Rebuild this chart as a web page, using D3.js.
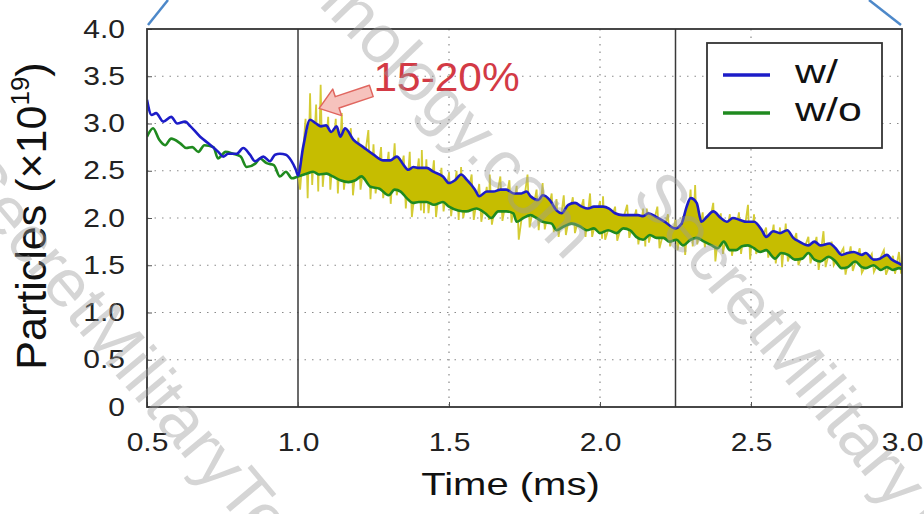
<!DOCTYPE html>
<html>
<head>
<meta charset="utf-8">
<script src="https://cdn.jsdelivr.net/npm/d3@7"></script>
<style>
  body { margin: 0; background: #fff; }
  svg { display: block; }
  text { font-family: "Liberation Sans", Arial, Helvetica, sans-serif; }
</style>
</head>
<body>
<div id="chart"></div>
<script>
// ---- data ----
const seriesNames = ["w/", "w/o"];
const seriesColors = ["#1c1cc8", "#1f8a1f"];

// particles (x1e19) vs time (ms), with plasma ("w/")
const withValues = [
  [0.500,3.25],[0.515,3.09],[0.530,3.11],[0.554,3.02],[0.580,3.07],[0.600,3.00],[0.626,3.02],[0.644,2.97],
  [0.676,2.86],[0.703,2.79],[0.736,2.70],[0.752,2.65],[0.769,2.68],[0.797,2.68],[0.819,2.74],[0.841,2.67],
  [0.858,2.60],[0.885,2.65],[0.907,2.60],[0.924,2.67],[0.940,2.68],[0.960,2.67],[0.977,2.61],[0.993,2.51],
  [1.000,2.45],[1.017,2.75],[1.040,3.04],[1.060,3.00],[1.076,2.97],[1.093,2.98],[1.110,2.91],[1.128,2.97],
  [1.140,2.86],[1.156,2.95],[1.183,2.83],[1.216,2.75],[1.250,2.67],[1.283,2.61],[1.305,2.61],[1.327,2.65],
  [1.350,2.56],[1.365,2.51],[1.382,2.54],[1.400,2.53],[1.426,2.53],[1.448,2.49],[1.480,2.44],[1.500,2.37],
  [1.520,2.40],[1.540,2.46],[1.560,2.40],[1.586,2.30],[1.600,2.23],[1.625,2.28],[1.647,2.28],[1.670,2.30],
  [1.690,2.30],[1.714,2.26],[1.740,2.26],[1.757,2.28],[1.770,2.23],[1.796,2.19],[1.810,2.24],[1.834,2.19],
  [1.856,2.08],[1.873,2.05],[1.895,2.14],[1.917,2.16],[1.940,2.12],[1.960,2.10],[1.980,2.12],[2.010,2.12],
  [2.030,2.10],[2.050,2.05],[2.075,2.03],[2.100,2.03],[2.126,2.03],[2.143,2.02],[2.160,2.05],[2.187,2.01],
  [2.215,1.96],[2.248,1.89],[2.270,1.94],[2.287,2.12],[2.300,2.21],[2.320,2.16],[2.336,1.96],[2.353,2.01],
  [2.375,2.07],[2.400,2.00],[2.420,1.96],[2.440,2.00],[2.463,1.98],[2.485,1.96],[2.510,1.96],[2.536,1.87],
  [2.550,1.80],[2.574,1.86],[2.596,1.84],[2.620,1.87],[2.640,1.79],[2.660,1.75],[2.690,1.71],[2.710,1.75],
  [2.730,1.71],[2.760,1.73],[2.780,1.68],[2.800,1.61],[2.820,1.63],[2.840,1.64],[2.867,1.61],[2.880,1.63],
  [2.906,1.56],[2.927,1.57],[2.950,1.61],[2.966,1.56],[2.990,1.52],[3.000,1.50]
];

// without plasma ("w/o")
const withoutValues = [
  [0.500,2.86],[0.520,2.95],[0.540,2.83],[0.560,2.77],[0.580,2.84],[0.610,2.79],[0.630,2.74],[0.650,2.75],
  [0.670,2.70],[0.690,2.77],[0.720,2.75],[0.735,2.63],[0.760,2.70],[0.785,2.68],[0.810,2.65],[0.830,2.54],
  [0.860,2.58],[0.874,2.63],[0.896,2.58],[0.920,2.56],[0.940,2.44],[0.960,2.49],[0.980,2.42],[1.000,2.44],
  [1.030,2.47],[1.050,2.49],[1.070,2.46],[1.095,2.47],[1.115,2.44],[1.140,2.40],[1.167,2.38],[1.190,2.40],
  [1.210,2.44],[1.240,2.33],[1.270,2.31],[1.300,2.24],[1.320,2.30],[1.340,2.28],[1.360,2.21],[1.380,2.16],
  [1.400,2.17],[1.426,2.17],[1.450,2.14],[1.480,2.17],[1.500,2.12],[1.530,2.08],[1.557,2.07],[1.590,2.10],
  [1.620,2.05],[1.640,2.00],[1.663,2.07],[1.690,2.07],[1.713,2.05],[1.724,1.96],[1.746,2.00],[1.770,2.03],
  [1.790,2.00],[1.810,1.96],[1.840,1.94],[1.856,1.87],[1.880,1.91],[1.906,1.94],[1.934,1.91],[1.956,1.87],
  [1.980,1.89],[2.000,1.84],[2.027,1.87],[2.055,1.84],[2.077,1.89],[2.100,1.87],[2.120,1.80],[2.143,1.77],
  [2.165,1.82],[2.187,1.79],[2.210,1.79],[2.230,1.75],[2.253,1.77],[2.275,1.71],[2.300,1.77],[2.320,1.79],
  [2.345,1.75],[2.370,1.71],[2.390,1.68],[2.410,1.75],[2.430,1.66],[2.450,1.66],[2.470,1.70],[2.490,1.71],
  [2.510,1.68],[2.530,1.64],[2.550,1.66],[2.580,1.57],[2.600,1.63],[2.623,1.61],[2.645,1.56],[2.670,1.57],
  [2.690,1.63],[2.710,1.56],[2.730,1.54],[2.756,1.59],[2.780,1.54],[2.800,1.47],[2.820,1.48],[2.845,1.54],
  [2.867,1.48],[2.880,1.47],[2.906,1.50],[2.930,1.45],[2.950,1.48],[2.970,1.45],[2.990,1.47],[3.000,1.46]
];

// raw (noisy) difference signal: [time, spike top, spike bottom]
const rawSpikes = [
  [1.000,2.50,2.30],[1.025,3.05,2.21],[1.040,3.32,2.35],[1.060,3.20,2.28],[1.075,3.41,2.33],[1.100,3.07,2.30],
  [1.125,3.05,2.26],[1.145,3.11,2.30],[1.175,2.95,2.24],[1.200,2.85,2.30],[1.233,2.93,2.20],[1.250,2.78,2.26],
  [1.275,2.75,2.21],[1.300,2.70,2.15],[1.320,2.79,2.24],[1.350,2.66,2.10],[1.370,2.70,2.01],[1.400,2.63,2.08],
  [1.410,2.72,2.05],[1.425,2.62,2.05],[1.450,2.61,2.01],[1.475,2.53,2.07],[1.500,2.48,2.02],[1.525,2.50,1.98],
  [1.540,2.54,2.00],[1.575,2.46,1.98],[1.600,2.36,1.96],[1.625,2.33,1.98],[1.635,2.46,1.93],[1.670,2.44,1.97],
  [1.700,2.40,1.95],[1.724,2.34,1.77],[1.760,2.46,1.90],[1.790,2.30,1.87],[1.810,2.37,1.88],[1.840,2.26,1.85],
  [1.856,2.20,1.80],[1.880,2.24,1.82],[1.910,2.22,1.84],[1.945,2.20,1.80],[1.967,2.26,1.80],[2.000,2.18,1.78],
  [2.010,2.23,1.77],[2.050,2.12,1.76],[2.090,2.14,1.79],[2.120,2.09,1.72],[2.143,2.10,1.70],[2.155,2.10,1.74],
  [2.190,2.12,1.68],[2.225,2.04,1.70],[2.250,1.98,1.66],[2.275,2.02,1.61],[2.300,2.30,1.70],[2.315,2.35,1.72],
  [2.340,2.06,1.69],[2.375,2.16,1.54],[2.400,2.05,1.62],[2.430,2.04,1.60],[2.460,2.06,1.62],[2.490,2.14,1.56],
  [2.510,2.04,1.62],[2.550,1.90,1.58],[2.575,1.93,1.52],[2.596,1.90,1.48],[2.615,1.94,1.54],[2.650,1.84,1.50],
  [2.690,1.80,1.52],[2.717,1.80,1.45],[2.740,1.86,1.48],[2.767,1.75,1.50],[2.806,1.68,1.40],[2.830,1.70,1.44],
  [2.860,1.68,1.42],[2.900,1.62,1.43],[2.940,1.66,1.40],[2.970,1.60,1.41],[2.990,1.64,1.41],[3.000,1.55,1.44]
];

const xTicks = [0.5, 1.0, 1.5, 2.0, 2.5, 3.0];
const xTickLabels = ["0.5", "1.0", "1.5", "2.0", "2.5", "3.0"];
const yTicks = [0, 0.5, 1.0, 1.5, 2.0, 2.5, 3.0, 3.5, 4.0];
const yTickLabels = ["0", "0.5", "1.0", "1.5", "2.0", "2.5", "3.0", "3.5", "4.0"];
const xGrid = [1.5, 2.0, 2.5];
const markerTimes = [1.0, 2.25];
const fillStart = 1.0;
const annotation = { text: "15-20%", tip: [1.07, 3.16], textAt: [1.25, 3.34] };
const watermark = "SecretMilitaryTechnology.com";

// ---- layout ----
const W = 924, H = 514;
const m = { left: 147, right: 22, top: 29, bottom: 107 };

const svg = d3.select("#chart").append("svg")
  .attr("width", W)
  .attr("height", H);

const x = d3.scaleLinear().domain([0.5, 3.0]).range([m.left, W - m.right]);
const y = d3.scaleLinear().domain([0, 4]).range([H - m.bottom, m.top]);

svg.append("clipPath").attr("id", "plot-clip")
  .append("rect")
  .attr("x", m.left).attr("y", m.top)
  .attr("width", W - m.left - m.right)
  .attr("height", H - m.top - m.bottom);

// grid
svg.append("g")
  .selectAll("line")
  .data(yTicks.filter(d => d > 0 && d < 4))
  .enter().append("line")
  .attr("x1", m.left).attr("x2", W - m.right)
  .attr("y1", d => y(d)).attr("y2", d => y(d))
  .attr("stroke", "#8a8a8a").attr("stroke-width", 1.2)
  .attr("stroke-dasharray", "1.5,6");

svg.append("g")
  .selectAll("line")
  .data(xGrid)
  .enter().append("line")
  .attr("x1", d => x(d)).attr("x2", d => x(d))
  .attr("y1", m.top).attr("y2", H - m.bottom)
  .attr("stroke", "#8a8a8a").attr("stroke-width", 1.2)
  .attr("stroke-dasharray", "1.5,6");

svg.append("g")
  .selectAll("line")
  .data(markerTimes)
  .enter().append("line")
  .attr("x1", d => x(d)).attr("x2", d => x(d))
  .attr("y1", m.top).attr("y2", H - m.bottom)
  .attr("stroke", "#3a3a3a").attr("stroke-width", 1.5);

const plot = svg.append("g").attr("clip-path", "url(#plot-clip)");
const pathOf = d3.line().x(d => x(d[0])).y(d => y(d[1]));

// noisy raw signal
const zig = rawSpikes.flatMap(d => [[d[0], d[1]], [d[0] + 0.007, d[2]]]);
plot.append("path")
  .datum(zig)
  .attr("fill", "none")
  .attr("stroke", "#d4cc34")
  .attr("stroke-width", 1.8)
  .attr("d", pathOf);

// filled band between the two curves
const band = withValues.filter(d => d[0] >= fillStart)
  .concat(withoutValues.filter(d => d[0] >= fillStart).reverse());
plot.append("path")
  .attr("fill", "#c6bd00")
  .attr("d", pathOf(band) + "Z");

const line = d3.line().x(d => x(d[0])).y(d => y(d[1])).curve(d3.curveMonotoneX);

plot.append("path")
  .datum(withoutValues)
  .attr("fill", "none")
  .attr("stroke", seriesColors[1])
  .attr("stroke-width", 2.6)
  .attr("d", line);

plot.append("path")
  .datum(withValues)
  .attr("fill", "none")
  .attr("stroke", seriesColors[0])
  .attr("stroke-width", 2.6)
  .attr("d", line);

// axes
function stretch(sel, k) {
  sel.each(function () {
    const w = this.getComputedTextLength();
    d3.select(this).attr("textLength", w * k).attr("lengthAdjust", "spacingAndGlyphs");
  });
}

const yAxis = svg.append("g")
  .attr("transform", "translate(" + m.left + ",0)")
  .call(d3.axisLeft(y).tickValues(yTicks).tickFormat((d, i) => yTickLabels[i]).tickSize(-5).tickPadding(22));
yAxis.select(".domain").remove();
yAxis.selectAll("line").attr("stroke", "#555");
yAxis.selectAll("text")
  .attr("font-size", 25).attr("font-family", "Liberation Sans, Arial, sans-serif")
  .attr("fill", "#222").call(stretch, 1.2);

const xAxis = svg.append("g")
  .attr("transform", "translate(0," + (H - m.bottom) + ")")
  .call(d3.axisBottom(x).tickValues(xTicks).tickFormat((d, i) => xTickLabels[i]).tickSize(-5).tickPadding(26));
xAxis.select(".domain").remove();
xAxis.selectAll("line").attr("stroke", "#555");
xAxis.selectAll("text")
  .attr("font-size", 25).attr("font-family", "Liberation Sans, Arial, sans-serif")
  .attr("fill", "#222").call(stretch, 1.2);

// frame
svg.append("rect")
  .attr("x", m.left).attr("y", m.top)
  .attr("width", W - m.left - m.right)
  .attr("height", H - m.top - m.bottom)
  .attr("fill", "none")
  .attr("stroke", "#333").attr("stroke-width", 1.8);

// axis titles
svg.append("text")
  .attr("x", (m.left + W - m.right) / 2 - 14)
  .attr("y", 495)
  .attr("text-anchor", "middle")
  .attr("font-size", 32)
  .attr("fill", "#111")
  .text("Time (ms)")
  .call(stretch, 1.25);

const yTitle = svg.append("text")
  .attr("transform", "translate(46,216) rotate(-90)")
  .attr("text-anchor", "middle")
  .attr("font-size", 43)
  .attr("fill", "#111");
yTitle.append("tspan").text("Particles (×10");
yTitle.append("tspan").attr("font-size", 26).attr("dy", -17).text("19");
yTitle.append("tspan").attr("dy", 17).text(")");

// legend
const lg = svg.append("g");
lg.append("rect")
  .attr("x", 707).attr("y", 43).attr("width", 175).attr("height", 105)
  .attr("fill", "#fff").attr("stroke", "#333").attr("stroke-width", 1.8);
seriesNames.forEach((name, i) => {
  const cy = 75 + i * 38;
  lg.append("line")
    .attr("x1", 723).attr("x2", 770).attr("y1", cy).attr("y2", cy)
    .attr("stroke", seriesColors[i]).attr("stroke-width", 3.5);
  lg.append("text")
    .attr("x", 795).attr("y", cy + 8)
    .attr("font-size", 33).attr("fill", "#111")
    .text(name)
    .call(stretch, 1.3);
});

// annotation arrow + label
const tip = [x(annotation.tip[0]), y(annotation.tip[1])];
svg.append("path")
  .attr("transform", "translate(" + tip[0] + "," + tip[1] + ") rotate(-18.5)")
  .attr("d", "M0,0 L19,-14 L19,-6 L55,-6 L55,6 L19,6 L19,14 Z")
  .attr("fill", "#f6c2bd")
  .attr("stroke", "#e0665f")
  .attr("stroke-width", 1.5)
  .attr("stroke-linejoin", "round");

svg.append("text")
  .attr("x", x(annotation.textAt[0]))
  .attr("y", y(annotation.textAt[1]))
  .attr("font-size", 40)
  .attr("fill", "#d33a45")
  .text(annotation.text)
  .call(stretch, 1.06);

// callout lines from the slide
svg.append("line")
  .attr("x1", m.left + 1).attr("y1", m.top - 4).attr("x2", m.left + 21).attr("y2", 0)
  .attr("stroke", "#4d88c9").attr("stroke-width", 2.5);
svg.append("line")
  .attr("x1", W - m.right - 1).attr("y1", m.top - 4).attr("x2", W - m.right - 33).attr("y2", 0)
  .attr("stroke", "#4d88c9").attr("stroke-width", 2.5);

// watermarks
const wm = svg.append("g").attr("pointer-events", "none");
[
  { at: [566, 262], angle: 46, anchor: "end" },
  { at: [-50, 178], angle: 50, anchor: "start" },
  { at: [630, 196], angle: 50, anchor: "start" }
].forEach(p => {
  wm.append("text")
    .attr("transform", "translate(" + p.at[0] + "," + p.at[1] + ") rotate(" + p.angle + ")")
    .attr("text-anchor", p.anchor)
    .attr("font-size", 68)
    .attr("fill", "#9a9a9a")
    .attr("fill-opacity", 0.42)
    .text(watermark);
});
</script>
</body>
</html>
